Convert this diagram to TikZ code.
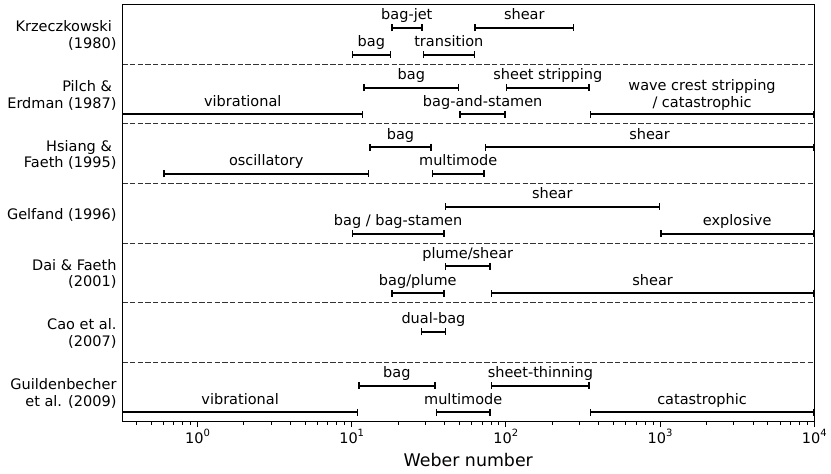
\documentclass[tikz,border=0pt]{standalone}
\usepackage{fontspec}
\setmainfont{DejaVu Sans}
\usetikzlibrary{arrows.meta}
\begin{document}
\begin{tikzpicture}[x=154.2pt, y=-59.6pt]
	\tikzstyle{every node}+=[inner sep=0pt, font=\fontsize{14.5pt}{16.7pt}\selectfont]
	\tikzstyle{regime}=[black, line width=2pt, {Bar[width=7pt,line width=1.5pt]}-{Bar[width=7pt,line width=1.5pt]}]
	\tikzstyle{openregime}=[black, line width=2pt, -{Bar[width=7pt,line width=1.5pt]}]
	\tikzstyle{lbl}=[midway, anchor=base, yshift=8pt]
	\tikzstyle{rowline}=[black!80, line width=1.1pt, dash pattern=on 5.4pt off 2.3pt]
	\tikzstyle{study}=[anchor=east, align=right, xshift=-5.6pt]
	\tikzstyle{majortick}=[black, line width=1.16pt]
	\tikzstyle{minortick}=[black, line width=0.87pt]
	\useasboundingbox (-1.2808,-0.0789) rectangle (4.1083,7.8742);
	\foreach \r in {1,...,6}
		\draw [rowline] (-0.488,\r) -- (4,\r);
	\draw [regime] (1.255,0.39) -- (1.46,0.39) node [lbl] (kbagjet) {bag-jet};
	\draw [regime] (1.795,0.39) -- (2.444,0.39) node [lbl] (kshear) {shear};
	\draw [regime] (1,0.84) -- (1.255,0.84) node [lbl] (kbag) {bag};
	\draw [regime] (1.46,0.84) -- (1.8,0.84) node [lbl] (ktrans) {transition};
	\draw [regime] (1.075,1.39) -- (1.699,1.39) node [lbl] (pbag) {bag};
	\draw [regime] (2,1.39) -- (2.544,1.39) node [lbl] (psheet) {sheet stripping};
	\draw [openregime] (-0.488,1.84) -- (1.075,1.84) node [lbl] (pvib) {vibrational};
	\draw [regime] (1.699,1.84) -- (2,1.84) node [lbl] (pstamen) {bag-and-stamen};
	\draw [regime] (2.544,1.84) -- (4,1.84) node [midway, anchor=south, yshift=3.3pt, align=center] (pwave) {wave crest stripping\\/ catastrophic};
	\draw [regime] (1.114,2.39) -- (1.519,2.39) node [lbl] (hbag) {bag};
	\draw [regime] (1.863,2.39) -- (4,2.39) node [lbl] (hshear) {shear};
	\draw [regime] (-0.222,2.84) -- (1.114,2.84) node [lbl] (hosc) {oscillatory};
	\draw [regime] (1.519,2.84) -- (1.863,2.84) node [lbl] (hmulti) {multimode};
	\draw [regime] (1.602,3.39) -- (3,3.39) node [lbl] (gshear) {shear};
	\draw [regime] (1,3.84) -- (1.602,3.84) node [lbl] (gbag) {bag / bag-stamen};
	\draw [regime] (3,3.84) -- (4,3.84) node [lbl] (gexpl) {explosive};
	\draw [regime] (1.602,4.39) -- (1.903,4.39) node [lbl] (dplume) {plume/shear};
	\draw [regime] (1.255,4.84) -- (1.602,4.84) node [lbl] (dbag) {bag/plume};
	\draw [regime] (1.903,4.84) -- (4,4.84) node [lbl] (dshear) {shear};
	\draw [regime] (1.447,5.49) -- (1.613,5.49) node [lbl] (cdual) {dual-bag};
	\draw [regime] (1.041,6.39) -- (1.544,6.39) node [lbl] (gubag) {bag};
	\draw [regime] (1.903,6.39) -- (2.544,6.39) node [lbl] (guthin) {sheet-thinning};
	\draw [openregime] (-0.488,6.84) -- (1.041,6.84) node [lbl] (guvib) {vibrational};
	\draw [regime] (1.544,6.84) -- (1.903,6.84) node [lbl] (gumulti) {multimode};
	\draw [regime] (2.544,6.84) -- (4,6.84) node [lbl] (gucat) {catastrophic};
	\draw (-0.488,0.52) node [study] (krz) {Krzeczkowski\hspace*{0.318em}\\(1980)};
	\draw (-0.488,1.52) node [study] (pilch) {Pilch \&\hspace*{0.318em}\\Erdman (1987)};
	\draw (-0.488,2.52) node [study] (hsiang) {Hsiang \&\hspace*{0.318em}\\Faeth (1995)};
	\draw (-0.488,3.52) node [study] (gelfand) {Gelfand (1996)};
	\draw (-0.488,4.52) node [study] (dai) {Dai \& Faeth\\(2001)};
	\draw (-0.488,5.52) node [study] (cao) {Cao et al.\\(2007)};
	\draw (-0.488,6.52) node [study] (guild) {Guildenbecher\\et al. (2009)};
	\draw [black, line width=1.16pt] (-0.488,0) rectangle (4,7);
	\foreach \k in {0,...,4} {
		\draw [majortick] (\k,7) -- ++(0,-5pt);
		\draw (\k,7) node [anchor=base, yshift=-21.6pt] (tick\k) {10\raisebox{7.3pt}{\fontsize{10pt}{10pt}\selectfont\k}};
	}
	\foreach \m in {4,...,9}
		\draw [minortick] ({log10(\m)-1},7) -- ++(0,-2.9pt);
	\foreach \k in {0,...,3}
		\foreach \m in {2,...,9}
			\draw [minortick] ({log10(\m)+\k},7) -- ++(0,-2.9pt);
	\draw (1.756,7) node [anchor=base, yshift=-45pt, font=\fontsize{17.4pt}{20pt}\selectfont] (xlabel) {Weber number};
\end{tikzpicture}
\end{document}
